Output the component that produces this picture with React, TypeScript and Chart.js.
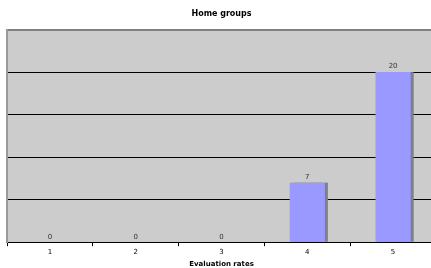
import React, { useEffect, useRef } from "react";
import { Chart, registerables } from "chart.js";

Chart.register(...registerables);

const categories = ["1", "2", "3", "4", "5"];
const counts = [0, 0, 0, 7, 20];
const chartTitle = "Home groups";
const xAxisTitle = "Evaluation rates";

const FONT = "'DejaVu Sans', Verdana, sans-serif";

const plotBgPlugin = {
  id: "plotBg",
  beforeDraw(chart: any) {
    const { ctx, chartArea } = chart;
    ctx.save();
    ctx.fillStyle = "#ffffff";
    ctx.fillRect(0, 0, chart.width, chart.height);
    ctx.fillStyle = "#cccccc";
    ctx.fillRect(chartArea.left, chartArea.top, chartArea.right - chartArea.left, chartArea.bottom - chartArea.top);
    ctx.restore();
  },
  beforeDatasetsDraw(chart: any) {
    const { ctx } = chart;
    const meta = chart.getDatasetMeta(0);
    ctx.save();
    ctx.fillStyle = "#808080";
    meta.data.forEach((bar: any) => {
      const w = bar.width;
      const h = bar.base - bar.y;
      if (h <= 0) return;
      ctx.fillRect(bar.x - w / 2 + 3, bar.y, w, h);
    });
    ctx.restore();
  },
  afterDatasetsDraw(chart: any) {
    const { ctx } = chart;
    const meta = chart.getDatasetMeta(0);
    ctx.save();
    ctx.fillStyle = "#333333";
    ctx.font = `7px ${FONT}`;
    ctx.textAlign = "center";
    ctx.textBaseline = "bottom";
    meta.data.forEach((bar: any, i: number) => {
      ctx.fillText(String(counts[i]), bar.x, bar.y - 2);
    });
    ctx.restore();
  },
};

export default function App() {
  const ref = useRef<HTMLCanvasElement>(null);
  useEffect(() => {
    if (!ref.current) return;
    const chart = new Chart(ref.current, {
      type: "bar",
      data: {
        labels: categories,
        datasets: [
          {
            data: counts,
            backgroundColor: "#9999ff",
            borderWidth: 0,
            barPercentage: 0.41,
            categoryPercentage: 1,
          },
        ],
      },
      options: {
        animation: false,
        responsive: false,
        maintainAspectRatio: false,
        layout: { padding: { left: 7, right: 1, top: 0, bottom: 0 } },
        plugins: {
          legend: { display: false },
          tooltip: { enabled: false },
          title: {
            display: true,
            text: chartTitle,
            color: "#000000",
            font: { family: FONT, size: 8, weight: "bold" },
            padding: { top: 9, bottom: 11 },
          },
        },
        scales: {
          x: {
            offset: true,
            grid: {
              display: true,
              offset: true,
              drawOnChartArea: false,
              drawTicks: true,
              tickLength: 4,
              color: "#000000",
            },
            border: { display: true, color: "#000000", width: 1 },
            ticks: {
              color: "#000000",
              font: { family: FONT, size: 7 },
              padding: 2,
            },
            title: {
              display: true,
              text: xAxisTitle,
              color: "#000000",
              font: { family: FONT, size: 7, weight: "bold" },
              padding: { top: 1, bottom: 0 },
            },
          },
          y: {
            min: 0,
            max: 25,
            ticks: { display: false, stepSize: 5 },
            grid: {
              drawTicks: false,
              color: (c: any) => (c.tick && c.tick.value === 25 ? "#808080" : "#000000"),
              lineWidth: (c: any) => (c.tick && c.tick.value === 25 ? 2 : 1),
            },
            border: { display: true, color: "#999999", width: 2 },
          },
        },
      },
      plugins: [plotBgPlugin],
    });
    return () => chart.destroy();
  }, []);
  return (
    <div style={{ position: "fixed", left: 0, top: 0, width: 431, height: 268, overflow: "hidden", background: "#fff" }}>
      <canvas ref={ref} width={437} height={268} style={{ width: 437, height: 268, display: "block" }} />
    </div>
  );
}
